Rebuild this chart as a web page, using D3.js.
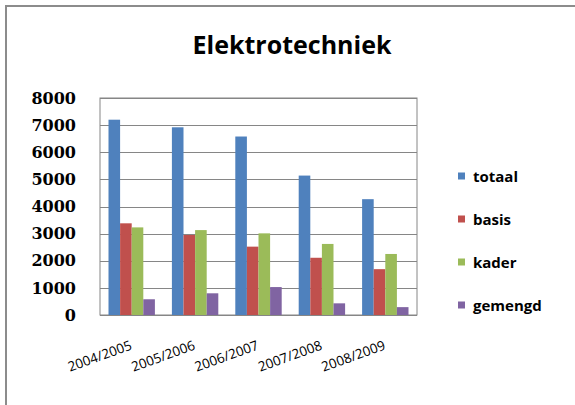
<!DOCTYPE html>
<html>
<head>
<meta charset="utf-8">
<script src="https://cdn.jsdelivr.net/npm/d3@7"></script>
<style>
  body { margin: 0; background: #fff; }
  svg { display: block; }
</style>
</head>
<body>
<svg id="chart" width="575" height="405"></svg>
<script>
// chart data
const years = ['2004/2005', '2005/2006', '2006/2007', '2007/2008', '2008/2009']
const series = ['totaal', 'basis', 'kader', 'gemengd']
const totaal = [7200, 6920, 6580, 5140, 4270]
const basis = [3380, 2950, 2520, 2110, 1690]
const kader = [3230, 3130, 3010, 2620, 2250]
const gemengd = [580, 800, 1030, 430, 290]
const yTicks = [0, 1000, 2000, 3000, 4000, 5000, 6000, 7000, 8000]

const values = [totaal, basis, kader, gemengd]
const colors = ['#4f81bd', '#c0504d', '#9bbb59', '#8064a2']

const svg = d3.select('#chart')

// outer frame (only top and left edges are visible)
svg.append('rect')
  .attr('x', 6).attr('y', 6)
  .attr('width', 600).attr('height', 430)
  .attr('fill', 'none')
  .attr('stroke', '#8c8c8c')
  .attr('stroke-width', 2)

const plotLeft = 100, plotRight = 417, plotTop = 98, plotBottom = 315

const x = d3.scaleBand().domain(years).range([plotLeft, plotRight]).paddingInner(0).paddingOuter(0)
const xs = d3.scaleBand().domain(series).range([8.5, x.bandwidth() - 8.5])
const y = d3.scaleLinear().domain([0, 8000]).range([plotBottom, plotTop])

// plot area border
svg.append('rect')
  .attr('x', plotLeft).attr('y', plotTop)
  .attr('width', plotRight - plotLeft).attr('height', plotBottom - plotTop)
  .attr('fill', 'none')
  .attr('stroke', '#868686')
  .attr('stroke-width', 1)

// gridlines
svg.append('g')
  .selectAll('line')
  .data(yTicks.slice(1))
  .enter()
  .append('line')
  .attr('x1', plotLeft).attr('x2', plotRight)
  .attr('y1', d => Math.round(y(d)) + 0.5)
  .attr('y2', d => Math.round(y(d)) + 0.5)
  .attr('stroke', '#868686')
  .attr('stroke-width', 1)

// y axis labels
const yAxis = d3.axisLeft(y).tickValues(yTicks).tickFormat(d3.format('d')).tickSize(0).tickPadding(24)
svg.append('g')
  .attr('transform', `translate(${plotLeft},0)`)
  .call(yAxis)
  .call(g => g.select('.domain').remove())
  .selectAll('text')
  .attr('fill', '#000')
  .style('font-family', 'DejaVu Serif')
  .style('font-weight', 'bold')
  .style('font-size', '16px')

// bars
const groups = svg.append('g')
  .selectAll('g')
  .data(years)
  .enter()
  .append('g')
  .attr('transform', d => `translate(${x(d)},0)`)

groups.selectAll('rect')
  .data((d, i) => series.map((s, j) => ({ s: s, v: values[j][i], c: colors[j] })))
  .enter()
  .append('rect')
  .attr('x', d => xs(d.s))
  .attr('width', xs.bandwidth())
  .attr('y', d => y(d.v))
  .attr('height', d => plotBottom - y(d.v))
  .attr('fill', d => d.c)

// bottom axis line
svg.append('line')
  .attr('x1', plotLeft).attr('x2', plotRight)
  .attr('y1', plotBottom + 0.5).attr('y2', plotBottom + 0.5)
  .attr('stroke', '#868686')

// x labels, rotated
svg.append('g')
  .selectAll('text')
  .data(years)
  .enter()
  .append('text')
  .attr('transform', d => `translate(${x(d) + x.bandwidth() / 2 + 1},${plotBottom + 34}) rotate(-20)`)
  .attr('text-anchor', 'end')
  .style('font-family', 'Open Sans')
  .style('font-size', '13.5px')
  .attr('fill', '#000')
  .text(d => d)

// title
svg.append('text')
  .attr('x', 292).attr('y', 54)
  .attr('text-anchor', 'middle')
  .style('font-family', 'Open Sans')
  .style('font-weight', 'bold')
  .style('font-size', '25px')
  .attr('fill', '#000')
  .text('Elektrotechniek')

// legend
const legend = svg.append('g')
  .selectAll('g')
  .data(series)
  .enter()
  .append('g')
  .attr('transform', (d, i) => `translate(458,${176 + i * 43})`)

legend.append('rect')
  .attr('x', 0).attr('y', -3.5)
  .attr('width', 7).attr('height', 7)
  .attr('fill', (d, i) => colors[i])

legend.append('text')
  .attr('x', 15).attr('y', 5.5)
  .style('font-family', 'Open Sans')
  .style('font-weight', 'bold')
  .style('font-size', '15px')
  .attr('fill', '#000')
  .text(d => d)
</script>
</body>
</html>
